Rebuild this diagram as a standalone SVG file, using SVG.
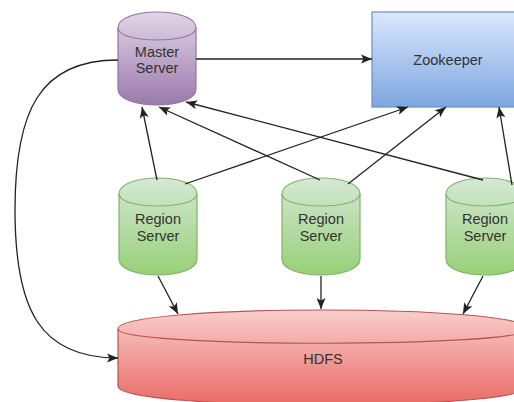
<svg xmlns="http://www.w3.org/2000/svg" width="514" height="402" viewBox="0 0 514 402">
  <style>
    .lbl { font-family: "Liberation Sans", Arial, sans-serif; font-size: 14.5px; fill: #333; text-anchor: middle; }
    .edge { fill: none; stroke: #222; stroke-width: 1.3; marker-end: url(#arrow); }
    .shape { stroke-width: 1.2; }
  </style>
  <defs>
    <linearGradient id="gPurple" x1="0" y1="0" x2="0" y2="1">
      <stop offset="0" stop-color="#e1d5e7"/>
      <stop offset="1" stop-color="#9a7aab"/>
    </linearGradient>
    <linearGradient id="gBlue" x1="0" y1="0" x2="0" y2="1">
      <stop offset="0" stop-color="#dae8fc"/>
      <stop offset="1" stop-color="#7ea6e0"/>
    </linearGradient>
    <linearGradient id="gGreen" x1="0" y1="0" x2="0" y2="1">
      <stop offset="0" stop-color="#d5e8d4"/>
      <stop offset="1" stop-color="#97d077"/>
    </linearGradient>
    <linearGradient id="gRed" x1="0" y1="0" x2="0" y2="1">
      <stop offset="0" stop-color="#f8cecc"/>
      <stop offset="1" stop-color="#ea6b66"/>
    </linearGradient>
    <marker id="arrow" markerUnits="userSpaceOnUse" markerWidth="12" markerHeight="10" viewBox="0 -5 12 10" refX="11" refY="0" orient="auto">
      <path d="M0,-4.5 L11,0 L0,4.5 L2.5,0 Z" fill="#222"/>
    </marker>
  </defs>

  <!-- Zookeeper -->
  <g id="zookeeper">
    <rect class="shape" x="372" y="12" width="152" height="95" fill="url(#gBlue)" stroke="#6c8ebf"/>
    <text class="lbl" x="448" y="65">Zookeeper</text>
  </g>

  <!-- Master Server -->
  <g id="master-server">
    <path class="shape" d="M118,28 C118,6.67 196,6.67 196,28 L196,89 C196,110.33 118,110.33 118,89 Z" fill="url(#gPurple)" stroke="#9673a6"/>
    <path class="shape" d="M118,28 C118,44 196,44 196,28" fill="none" stroke="#9673a6"/>
    <text class="lbl" x="157" y="57">Master</text>
    <text class="lbl" x="157" y="73">Server</text>
  </g>

  <!-- Region Servers -->
  <g id="region-server-1">
    <path class="shape" d="M119,194 C119,172.67 197,172.67 197,194 L197,259 C197,280.33 119,280.33 119,259 Z" fill="url(#gGreen)" stroke="#82b366"/>
    <path class="shape" d="M119,194 C119,210 197,210 197,194" fill="none" stroke="#82b366"/>
    <text class="lbl" x="158" y="224">Region</text>
    <text class="lbl" x="158" y="241">Server</text>
  </g>
  <g id="region-server-2">
    <path class="shape" d="M282,194 C282,172.67 360,172.67 360,194 L360,259 C360,280.33 282,280.33 282,259 Z" fill="url(#gGreen)" stroke="#82b366"/>
    <path class="shape" d="M282,194 C282,210 360,210 360,194" fill="none" stroke="#82b366"/>
    <text class="lbl" x="321" y="224">Region</text>
    <text class="lbl" x="321" y="241">Server</text>
  </g>
  <g id="region-server-3">
    <path class="shape" d="M446,194 C446,172.67 524,172.67 524,194 L524,259 C524,280.33 446,280.33 446,259 Z" fill="url(#gGreen)" stroke="#82b366"/>
    <path class="shape" d="M446,194 C446,210 524,210 524,194" fill="none" stroke="#82b366"/>
    <text class="lbl" x="485" y="224">Region</text>
    <text class="lbl" x="485" y="241">Server</text>
  </g>

  <!-- HDFS -->
  <g id="hdfs">
    <path class="shape" d="M118,329 C118,303.67 528,303.67 528,329 L528,386 C528,411.33 118,411.33 118,386 Z" fill="url(#gRed)" stroke="#b85450"/>
    <path class="shape" d="M118,329 C118,348 528,348 528,329" fill="none" stroke="#b85450"/>
    <text class="lbl" x="323" y="364">HDFS</text>
  </g>

  <!-- Connectors -->
  <g id="connectors">
    <path class="edge" d="M196,59 L372,59"/>
    <path class="edge" d="M157,180 L142,107"/>
    <path class="edge" d="M320,180 L159,107"/>
    <path class="edge" d="M483,180 L186,102"/>
    <path class="edge" d="M185,184 L408,107"/>
    <path class="edge" d="M348,184 L446,107"/>
    <path class="edge" d="M512,185 L499,107"/>
    <path class="edge" d="M158,276 L178,314"/>
    <path class="edge" d="M321,276 L321,309"/>
    <path class="edge" d="M483,276 L463,314"/>
    <path class="edge" d="M118,60 C40,60 15,110 15,210 C15,310 40,358 118,358"/>
  </g>
</svg>
